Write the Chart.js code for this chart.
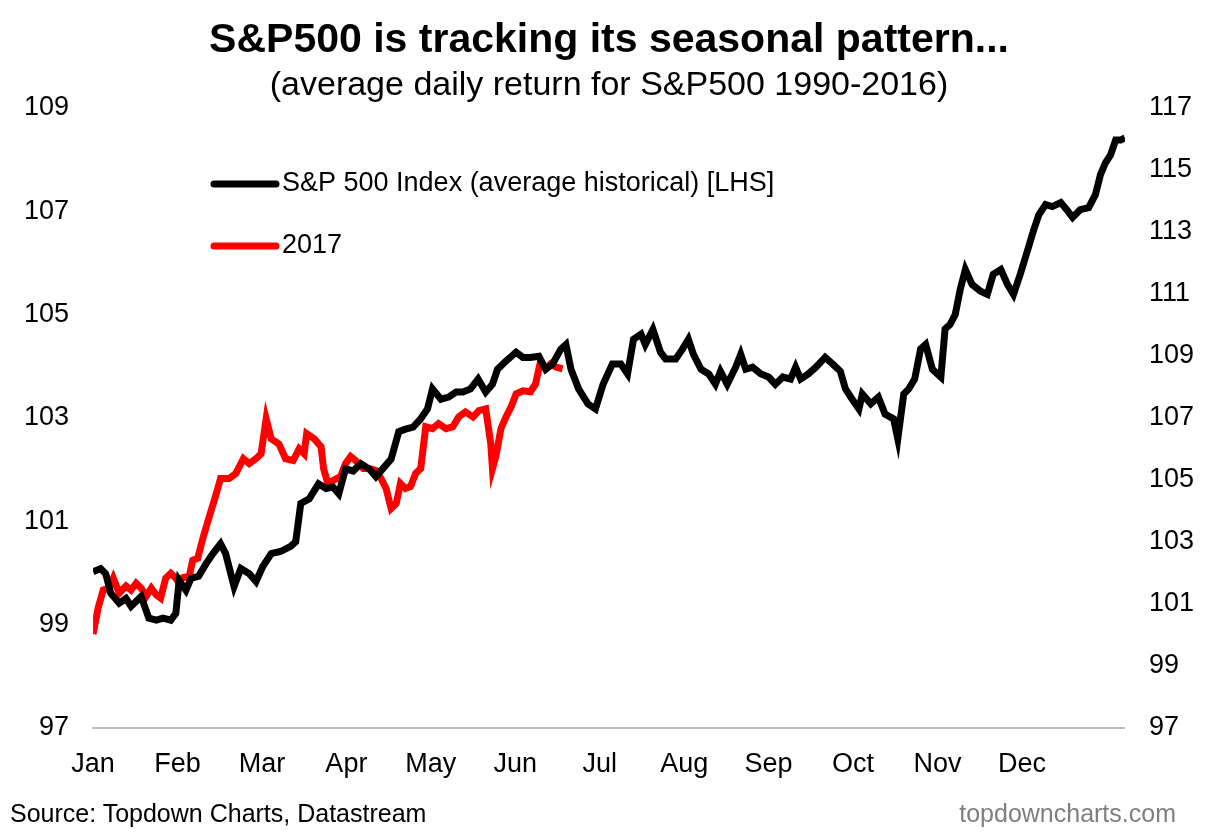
<!DOCTYPE html>
<html>
<head>
<meta charset="utf-8">
<script src="https://cdn.jsdelivr.net/npm/chart.js@4/dist/chart.umd.min.js"></script>
<style>
  body { margin: 0; background: #fff; font-family: "Liberation Sans", Arial, sans-serif; }
  #wrap { position: relative; width: 1212px; height: 836px; }
  .note { position: absolute; bottom: 8px; font-size: 25px; }
</style>
</head>
<body>
<div id="wrap">
  <canvas id="c" width="1212" height="836"></canvas>
  <div class="note" style="left:10px;color:#000;">Source: Topdown Charts, Datastream</div>
  <div class="note" style="right:36px;color:#7f7f7f;">topdowncharts.com</div>
</div>
<script>
const months = ['Jan', 'Feb', 'Mar', 'Apr', 'May', 'Jun', 'Jul', 'Aug', 'Sep', 'Oct', 'Nov', 'Dec'];

// x positions in months from 1 Jan
const avgX = [0,.09,.15,.21,.31,.39,.45,.57,.66,.75,.83,.92,.98,1.02,1.10,1.16,1.25,1.34,1.42,1.51,1.57,1.67,1.75,1.85,1.93,2.01,2.11,2.22,2.34,2.40,2.46,2.56,2.67,2.76,2.84,2.91,2.99,3.08,3.17,3.27,3.35,3.43,3.53,3.62,3.70,3.79,3.88,3.96,4.02,4.12,4.21,4.30,4.38,4.47,4.56,4.65,4.73,4.79,4.89,5.01,5.09,5.18,5.28,5.36,5.44,5.54,5.60,5.66,5.75,5.86,5.95,6.04,6.15,6.25,6.33,6.40,6.49,6.54,6.63,6.72,6.78,6.90,6.98,7.05,7.11,7.20,7.29,7.37,7.43,7.51,7.61,7.67,7.73,7.81,7.91,8.00,8.08,8.17,8.26,8.32,8.38,8.47,8.56,8.67,8.76,8.85,8.91,8.99,9.07,9.11,9.21,9.30,9.38,9.48,9.53,9.60,9.66,9.73,9.80,9.86,9.94,10.04,10.09,10.15,10.21,10.27,10.33,10.41,10.51,10.59,10.66,10.75,10.83,10.90,10.98,11.07,11.14,11.20,11.28,11.36,11.46,11.53,11.60,11.69,11.79,11.87,11.93,11.99,12.05,12.11,12.17,12.22];
// S&P 500 Index (average historical), left axis
const avgY = [100.02,100.08,99.98,99.60,99.41,99.50,99.35,99.54,99.12,99.08,99.12,99.08,99.21,99.85,99.66,99.89,99.93,100.18,100.37,100.56,100.37,99.73,100.08,99.98,99.83,100.12,100.37,100.41,100.51,100.60,101.34,101.43,101.72,101.63,101.66,101.53,102.01,101.97,102.11,102.01,101.86,102.01,102.20,102.73,102.78,102.82,102.98,103.17,103.56,103.36,103.40,103.50,103.50,103.56,103.75,103.50,103.65,103.94,104.10,104.27,104.17,104.17,104.19,103.94,104.04,104.33,104.42,103.94,103.56,103.27,103.17,103.65,104.04,104.04,103.85,104.52,104.62,104.42,104.71,104.27,104.14,104.14,104.33,104.52,104.23,103.94,103.85,103.65,103.90,103.65,103.98,104.23,103.94,103.98,103.85,103.79,103.65,103.79,103.75,103.98,103.75,103.85,103.98,104.17,104.04,103.90,103.56,103.36,103.17,103.46,103.27,103.40,103.07,102.98,102.59,103.46,103.56,103.75,104.33,104.42,103.94,103.79,104.72,104.81,105.00,105.49,105.87,105.58,105.45,105.39,105.78,105.87,105.58,105.39,105.78,106.26,106.64,106.93,107.13,107.09,107.17,107.03,106.88,107.03,107.07,107.32,107.71,107.94,108.09,108.38,108.38,108.42];

const y2017X = [0,.06,.12,.19,.24,.31,.39,.45,.51,.57,.63,.69,.75,.80,.86,.92,.98,1.02,1.04,1.14,1.18,1.24,1.30,1.37,1.46,1.51,1.61,1.69,1.78,1.85,1.93,1.99,2.05,2.11,2.20,2.28,2.37,2.44,2.50,2.53,2.62,2.70,2.73,2.78,2.84,2.93,2.99,3.05,3.11,3.20,3.27,3.35,3.41,3.47,3.53,3.59,3.64,3.70,3.76,3.82,3.88,3.94,4.02,4.09,4.18,4.26,4.33,4.41,4.50,4.57,4.65,4.71,4.73,4.77,4.83,4.89,4.95,5.01,5.09,5.18,5.24,5.30,5.36,5.42,5.48,5.56];
// 2017, right axis
const y2017Y = [100.02,100.86,101.44,101.50,101.82,101.34,101.57,101.44,101.66,101.50,101.24,101.50,101.28,101.18,101.82,101.98,101.82,101.66,101.82,101.89,102.40,102.47,103.11,103.75,104.56,105.04,105.04,105.20,105.68,105.52,105.68,105.84,106.97,106.32,106.16,105.68,105.62,106.00,105.84,106.49,106.32,106.07,105.36,104.88,104.97,105.10,105.52,105.75,105.62,105.36,105.36,105.30,105.04,104.72,104.07,104.23,104.88,104.72,104.78,105.20,105.36,106.71,106.65,106.81,106.65,106.71,107.03,107.19,107.03,107.23,107.29,106.16,105.36,105.75,106.65,107.03,107.35,107.77,107.87,107.84,108.09,108.83,108.58,108.74,108.64,108.58];

const pair = (xs, ys) => xs.map((x, i) => ({ x: x, y: ys[i] }));

const legendItems = [
  { text: 'S&P 500 Index (average historical) [LHS]', color: '#000000' },
  { text: '2017', color: '#ff0000' }
];

const insideLegend = {
  id: 'insideLegend',
  afterDraw(chart) {
    const ctx = chart.ctx;
    ctx.save();
    ctx.font = '27px "Liberation Sans", Arial, sans-serif';
    ctx.textBaseline = 'middle';
    legendItems.forEach((item, i) => {
      const y = 184 + i * 62;
      ctx.strokeStyle = item.color;
      ctx.lineWidth = 7;
      ctx.lineCap = 'round';
      ctx.beginPath();
      ctx.moveTo(214, y);
      ctx.lineTo(276, y);
      ctx.stroke();
      ctx.fillStyle = '#000';
      ctx.fillText(item.text, 282, y);
    });
    ctx.restore();
  }
};

const tickFont = { family: '"Liberation Sans", Arial, sans-serif', size: 27 };

new Chart(document.getElementById('c'), {
  type: 'line',
  data: {
    datasets: [
      {
        label: 'S&P 500 Index (average historical) [LHS]',
        data: pair(avgX, avgY),
        borderColor: '#000000',
        borderWidth: 7,
        pointRadius: 0,
        tension: 0,
        yAxisID: 'y'
      },
      {
        label: '2017',
        data: pair(y2017X, y2017Y),
        borderColor: '#ff0000',
        borderWidth: 7,
        pointRadius: 0,
        tension: 0,
        yAxisID: 'y2'
      }
    ]
  },
  options: {
    responsive: false,
    animation: false,
    layout: { padding: { left: 8, right: 2, top: 0, bottom: 42 } },
    plugins: {
      legend: { display: false },
      tooltip: { enabled: false },
      title: {
        display: true,
        text: 'S&P500 is tracking its seasonal pattern...',
        font: { family: '"Liberation Sans", Arial, sans-serif', size: 41, weight: 'bold' },
        color: '#000',
        padding: { top: 16, bottom: 0 }
      },
      subtitle: {
        display: true,
        text: '(average daily return for S&P500 1990-2016)',
        font: { family: '"Liberation Sans", Arial, sans-serif', size: 34 },
        color: '#000',
        padding: { top: 0, bottom: 2 }
      }
    },
    scales: {
      x: {
        type: 'linear',
        min: 0,
        max: 12.22,
        afterBuildTicks: (axis) => { axis.ticks = months.map((m, i) => ({ value: i })); },
        ticks: {
          callback: (v) => months[v] || '',
          font: tickFont,
          color: '#000',
          maxRotation: 0,
          padding: 13
        },
        grid: { display: false, drawTicks: true, tickLength: 8 },
        border: { display: true, color: '#bfbfbf', width: 2 }
      },
      y: {
        position: 'left',
        min: 97,
        max: 109,
        ticks: { stepSize: 2, font: tickFont, color: '#000', padding: 16 },
        grid: { display: false },
        border: { display: false }
      },
      y2: {
        position: 'right',
        min: 97,
        max: 117,
        ticks: { stepSize: 2, font: tickFont, color: '#000', padding: 16 },
        grid: { display: false },
        border: { display: false }
      }
    }
  },
  plugins: [insideLegend]
});
</script>
</body>
</html>
